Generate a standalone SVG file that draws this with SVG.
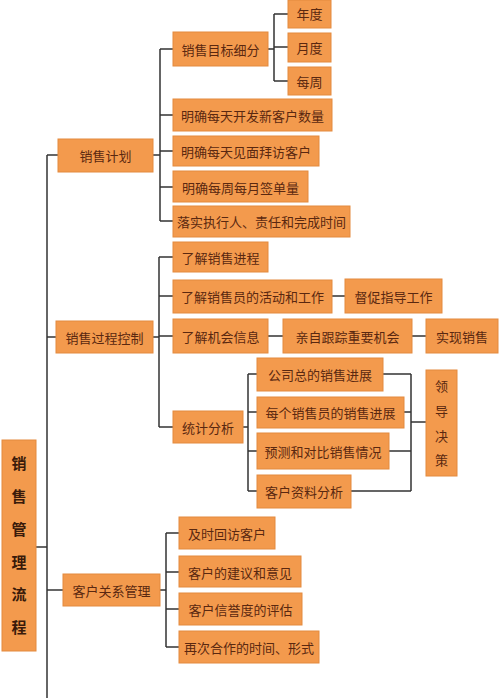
<svg xmlns="http://www.w3.org/2000/svg" width="500" height="700" viewBox="0 0 500 700">
<defs>
<style>
.b{fill:#F39A4D;stroke:#E38A3F;stroke-width:1}
.t{font-family:"Noto Sans CJK SC","Noto Sans",sans-serif;font-size:13px;fill:#5A2810;text-anchor:middle;dominant-baseline:central}
.r{font-family:"Noto Sans CJK SC","Noto Sans",sans-serif;font-size:15px;font-weight:bold;fill:#3A1A0A;text-anchor:middle;dominant-baseline:central}
.c{fill:none;stroke:#333;stroke-width:1.5}
</style>
</defs>
<rect width="500" height="700" fill="#fff"/>
<g id="connectors" class="c">
<path d="M47 155 V698"/>
<path d="M36 547 H47"/>
<path d="M47 155 H58"/>
<path d="M47 337 H56"/>
<path d="M47 590 H63"/>
<path d="M153 155 H160 M160 49 V221 M160 49 H173 M160 115 H173 M160 151 H173 M160 187 H173 M160 221 H173"/>
<path d="M268 49 H274 M274 14 V81 M274 14 H288 M274 47 H288 M274 81 H288"/>
<path d="M153 337 H159 M159 257 V427 M159 257 H173 M159 296 H173 M159 336 H173 M159 427 H173"/>
<path d="M332 296 H345 M268 336 H283 M412 336 H426"/>
<path d="M243 427 H248 M248 374 V491 M248 374 H257 M248 412 H257 M248 451 H257 M248 491 H257"/>
<path d="M383 374 H411 M404 412 H411 M389 451 H411 M351 491 H411 M411 374 V491 M411 422 H426"/>
<path d="M160 590 H166 M166 533 V647 M166 533 H179 M166 572 H179 M166 609 H179 M166 647 H179"/>
</g>
<g id="n-root"><rect class="b" x="2" y="440" width="34" height="211"/>
<text class="r" x="19" y="462">销</text><text class="r" x="19" y="495">售</text><text class="r" x="19" y="528">管</text><text class="r" x="19" y="561">理</text><text class="r" x="19" y="593">流</text><text class="r" x="19" y="626">程</text></g>
<g id="n-plan"><rect class="b" x="58" y="139" width="95" height="33"/><text class="t" x="105.5" y="155.5">销售计划</text></g>
<g id="n-proc"><rect class="b" x="56" y="321" width="97" height="32"/><text class="t" x="104.5" y="337">销售过程控制</text></g>
<g id="n-crm"><rect class="b" x="63" y="574" width="97" height="32"/><text class="t" x="111.5" y="590">客户关系管理</text></g>
<g id="n-target"><rect class="b" x="173" y="32" width="95" height="34"/><text class="t" x="220.5" y="49">销售目标细分</text></g>
<g id="n-year"><rect class="b" x="288" y="0" width="43" height="28"/><text class="t" x="309.5" y="13">年度</text></g>
<g id="n-month"><rect class="b" x="288" y="33" width="43" height="29"/><text class="t" x="309.5" y="47">月度</text></g>
<g id="n-week"><rect class="b" x="288" y="67" width="43" height="28"/><text class="t" x="309.5" y="81">每周</text></g>
<g id="n-p1"><rect class="b" x="173" y="99" width="159" height="32"/><text class="t" x="252.5" y="115">明确每天开发新客户数量</text></g>
<g id="n-p2"><rect class="b" x="173" y="136" width="146" height="30"/><text class="t" x="246" y="151">明确每天见面拜访客户</text></g>
<g id="n-p3"><rect class="b" x="173" y="171" width="135" height="31"/><text class="t" x="240.5" y="187">明确每周每月签单量</text></g>
<g id="n-p4"><rect class="b" x="173" y="206" width="177" height="31"/><text class="t" x="261.5" y="221">落实执行人、责任和完成时间</text></g>
<g id="n-c1"><rect class="b" x="173" y="242" width="95" height="30"/><text class="t" x="220.5" y="257">了解销售进程</text></g>
<g id="n-c2"><rect class="b" x="173" y="280" width="159" height="33"/><text class="t" x="252.5" y="296">了解销售员的活动和工作</text></g>
<g id="n-c2a"><rect class="b" x="345" y="279" width="97" height="34"/><text class="t" x="393.5" y="296">督促指导工作</text></g>
<g id="n-c3"><rect class="b" x="173" y="319" width="95" height="34"/><text class="t" x="220.5" y="336">了解机会信息</text></g>
<g id="n-c3a"><rect class="b" x="283" y="319" width="129" height="34"/><text class="t" x="347.5" y="336">亲自跟踪重要机会</text></g>
<g id="n-c3b"><rect class="b" x="426" y="319" width="72" height="34"/><text class="t" x="462" y="336">实现销售</text></g>
<g id="n-c4"><rect class="b" x="173" y="411" width="70" height="32"/><text class="t" x="208" y="427">统计分析</text></g>
<g id="n-s1"><rect class="b" x="257" y="358" width="126" height="33"/><text class="t" x="320" y="374.5">公司总的销售进展</text></g>
<g id="n-s2"><rect class="b" x="257" y="397" width="147" height="31"/><text class="t" x="330.5" y="412.5">每个销售员的销售进展</text></g>
<g id="n-s3"><rect class="b" x="257" y="433" width="132" height="36"/><text class="t" x="323" y="451">预测和对比销售情况</text></g>
<g id="n-s4"><rect class="b" x="257" y="475" width="94" height="33"/><text class="t" x="304" y="491">客户资料分析</text></g>
<g id="n-lead"><rect class="b" x="426" y="370" width="31" height="106"/>
<text class="t" x="441.5" y="385">领</text><text class="t" x="441.5" y="410">导</text><text class="t" x="441.5" y="435">决</text><text class="t" x="441.5" y="459">策</text></g>
<g id="n-k1"><rect class="b" x="179" y="517" width="96" height="32"/><text class="t" x="227" y="533">及时回访客户</text></g>
<g id="n-k2"><rect class="b" x="179" y="556" width="122" height="31"/><text class="t" x="240" y="572">客户的建议和意见</text></g>
<g id="n-k3"><rect class="b" x="179" y="593" width="123" height="32"/><text class="t" x="240.5" y="609">客户信誉度的评估</text></g>
<g id="n-k4"><rect class="b" x="179" y="631" width="140" height="32"/><text class="t" x="249" y="647">再次合作的时间、形式</text></g>
</svg>
